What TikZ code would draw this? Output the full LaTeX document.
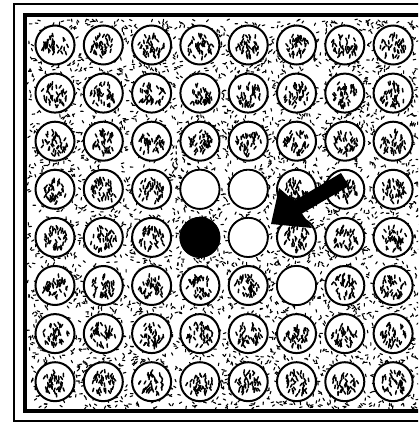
\documentclass[tikz,border=0pt]{standalone}
\begin{document}
\begin{tikzpicture}[x=1pt,y=-1pt,
  spot/.style={circle,draw,line width=2pt,fill=white,minimum size=39pt,inner sep=0pt},
  stone/.style={circle,draw,line width=1.6pt,minimum size=39pt,inner sep=0pt},
  speck/.style={line width=1.1pt,line cap=round},
  inkmark/.style={line width=1.5pt,line cap=round}]
  \useasboundingbox (0,0) rectangle (418,422);
  \clip (0,0) rectangle (418,422);
  % frame
  \draw[line width=1.8pt] (14,4) rectangle (440,421);
  \draw[line width=3.5pt] (25,15) rectangle (440,411);
  % speckled board
  \pgfmathsetseed{4242}
  \foreach \k in {1,...,4600}{
    \pgfmathsetmacro\px{28+392*rnd}
    \pgfmathsetmacro\py{19+389*rnd}
    \pgfmathsetmacro\pa{180*rnd}
    \draw[speck] (\px,\py) -- ++(\pa:2.6);
  }
  % spots
  \foreach \i in {0,...,7}
    \foreach \j in {0,...,7}{
      \node[spot] (s-\i-\j) at ({55+48.3*\i},{45+48.1*\j}) {};
      \foreach \m in {1,...,40}{
        \pgfmathsetmacro\rr{12.5*sqrt(rnd)}
        \pgfmathsetmacro\ra{360*rnd}
        \pgfmathsetmacro\pa{50+80*rnd}
        \draw[inkmark] ([shift={(\ra:\rr)}]s-\i-\j.center) -- ++(\pa:3.4);
      }
    }
  % stones
  \node[stone,fill=white] (w1) at (s-3-3) {};
  \node[stone,fill=white] (w2) at (s-4-3) {};
  \node[stone,fill=white] (w3) at (s-4-4) {};
  \node[stone,fill=white] (w4) at (s-5-5) {};
  \node[stone,fill=black] (b1) at (s-3-4) {};
  % arrow
  \coordinate (tip) at (271,224);
  \fill (tip) -- (312,228) -- (302,213.5) -- (349,186) -- (341,173)
    -- (294,201) -- (279,188) -- cycle;
\end{tikzpicture}
\end{document}
